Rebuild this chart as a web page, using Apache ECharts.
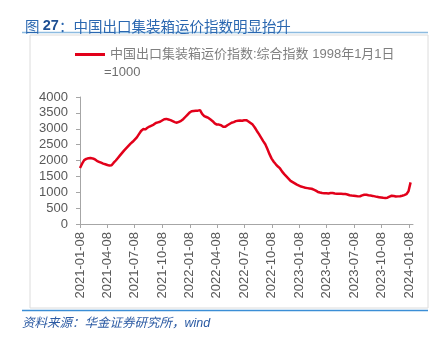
<!DOCTYPE html>
<html>
<head>
<meta charset="utf-8">
<script src="https://cdn.jsdelivr.net/npm/echarts@6/dist/echarts.min.js"></script>
<style>html,body{margin:0;padding:0;background:#fff}#c{width:445px;height:339px}</style>
</head>
<body>
<div id="c"></div>
<script>
// ---- data ----
var titleText = '图 27：中国出口集装箱运价指数明显抬升';
var seriesName = '中国出口集装箱运价指数:综合指数 1998年1月1日';
var seriesNameLine2 = '=1000';
var sourceText = '资料来源：华金证券研究所，wind';
var firstWeek = '2021-01-08';      // weekly (Friday) observations start here
var axisEnd = '2024-01-20';
var tickLabels = ['2021-01-08','2021-04-08','2021-07-08','2021-10-08','2022-01-08','2022-04-08','2022-07-08','2022-10-08','2023-01-08','2023-04-08','2023-07-08','2023-10-08','2024-01-08'];
var yTicks = [0, 4000, 500];
var ccfi = [
1764,1900,2010,2050,2070,2080,2065,2040,1990,1960,1930,1900,1880,1860,1840,1850,1930,2000,2080,2160,
2240,2320,2390,2460,2530,2590,2660,2730,2830,2930,2990,2980,3030,3070,3100,3130,3180,3200,3220,3260,
3300,3310,3290,3270,3240,3210,3190,3220,3250,3300,3370,3440,3510,3550,3560,3565,3570,3587,3470,3400,
3370,3340,3290,3240,3170,3130,3130,3110,3060,3060,3110,3150,3190,3210,3240,3250,3260,3250,3265,3270,
3230,3180,3130,3040,2930,2830,2720,2610,2510,2360,2200,2060,1960,1880,1810,1750,1650,1570,1500,1430,
1360,1320,1280,1240,1210,1180,1160,1140,1130,1120,1110,1080,1050,1010,990,975,970,965,960,975,
975,960,955,955,950,945,945,930,905,895,890,880,870,875,900,920,920,905,895,885,
870,855,845,835,825,820,830,860,890,880,865,870,875,890,910,940,1030,1310
];

// ---- build ----
function ts(s){var p=s.split('-');return Date.UTC(+p[0],+p[1]-1,+p[2]);}
function fmt(v){var d=new Date(v);function z(n){return (n<10?'0':'')+n;}return d.getUTCFullYear()+'-'+z(d.getUTCMonth()+1)+'-'+z(d.getUTCDate());}
var t0 = ts(firstWeek), DAY = 86400000;
var data = ccfi.map(function(v,i){return [t0 + i*7*DAY, v];});
var tickVals = tickLabels.map(ts);

var FONT = '"Liberation Sans", Arial, "Noto Sans CJK SC", sans-serif';
var chart = echarts.init(document.getElementById('c'), null, {renderer:'canvas'});
chart.setOption({
  animation:false,
  textStyle:{fontFamily:FONT},
  title:{
    text:'{a|图 }{b|27}{a|：中国出口集装箱运价指数明显抬升}',
    left:20, top:14,
    textStyle:{fontWeight:'normal',rich:{
      a:{fontSize:14.5,color:'#2a67b0',fontWeight:'normal',fontFamily:'"Noto Sans CJK SC", sans-serif'},
      b:{fontSize:14.5,color:'#1d4f93',fontWeight:'bold',fontFamily:FONT}
    }}
  },
  legend:{
    data:[seriesName], left:70, top:43,
    itemWidth:30, itemHeight:3, itemGap:6,
    icon:'rect',
    textStyle:{fontSize:13,color:'#7f7f7f',fontFamily:FONT}
  },
  graphic:[
    {type:'line',shape:{x1:22,y1:32.5,x2:428,y2:32.5},style:{stroke:'#8dbbe0',lineWidth:1.5},silent:true},
    {type:'rect',shape:{x:30,y:35,width:398,height:273},style:{fill:'none',stroke:'#dcdcdc',lineWidth:1},silent:true},
    {type:'line',shape:{x1:22,y1:310.5,x2:428,y2:310.5},style:{stroke:'#3b8ed6',lineWidth:1.5},silent:true},
    {type:'text',left:104,top:66,style:{text:seriesNameLine2,fontSize:13,fill:'#6f6f6f',fontFamily:FONT}},
    {type:'text',left:22,top:317,style:{text:sourceText,fontSize:12.5,fontStyle:'italic',fill:'#2b5aa3',fontFamily:FONT}}
  ],
  grid:{left:80,top:97,right:32,bottom:115,containLabel:false},
  xAxis:{
    type:'value', min:t0, max:ts(axisEnd),
    axisLine:{show:true,lineStyle:{color:'#a6a6a6',width:1}},
    axisTick:{show:true,length:4,customValues:tickVals,lineStyle:{color:'#a6a6a6'}},
    axisLabel:{customValues:tickVals,rotate:90,margin:8,fontSize:13,color:'#595959',fontFamily:FONT,formatter:function(v){return fmt(v);}},
    splitLine:{show:false}
  },
  yAxis:{
    type:'value', min:yTicks[0], max:yTicks[1], interval:yTicks[2],
    axisLine:{show:true,lineStyle:{color:'#a6a6a6',width:1}},
    axisTick:{show:true,length:4,lineStyle:{color:'#a6a6a6'}},
    axisLabel:{margin:12,fontSize:13,color:'#595959',fontFamily:FONT,formatter:function(v){return String(v);}},
    splitLine:{show:false}
  },
  series:[{
    name:seriesName, type:'line', data:data, symbol:'none', showSymbol:false,
    lineStyle:{color:'#e2001a',width:2.5}, itemStyle:{color:'#e2001a'}
  }]
});
</script>
</body>
</html>
